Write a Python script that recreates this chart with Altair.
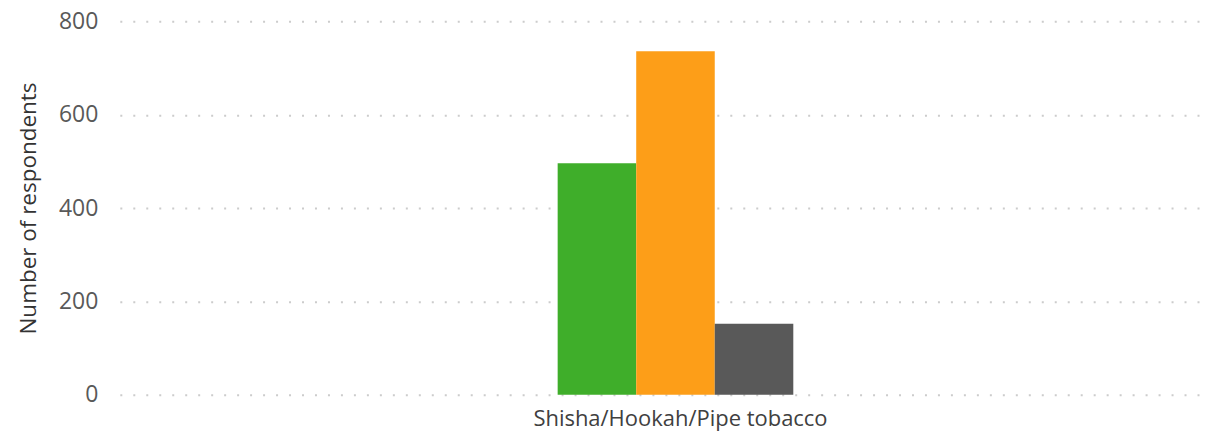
import altair as alt
import pandas as pd

categories = ["Shisha/Hookah/Pipe tobacco"]
series = ["Series 1", "Series 2", "Series 3"]
values = [496, 736, 152]
colors = ["#3FAE2A", "#FD9E18", "#595959"]
y_ticks = [0, 200, 400, 600, 800]

df = pd.DataFrame({
    "category": categories * len(series),
    "series": series,
    "value": values,
})

FONT = "Open Sans"

chart = alt.Chart(df).mark_bar().encode(
    x=alt.X(
        "category:N",
        title=None,
        scale=alt.Scale(paddingInner=0.4446, paddingOuter=1, align=0.516),
        axis=alt.Axis(labelAngle=0, ticks=False, domain=False, grid=False,
                      labelPadding=14, labelFont=FONT, labelFontSize=22,
                      labelColor="#404040", labelOffset=5, labelLimit=0),
    ),
    xOffset=alt.XOffset("series:N", sort=series,
                        scale=alt.Scale(paddingInner=0, paddingOuter=0)),
    y=alt.Y(
        "value:Q",
        title="Number of respondents",
        scale=alt.Scale(domain=[0, 800]),
        axis=alt.Axis(values=y_ticks, ticks=False, domain=False,
                      labelPadding=22, labelFont=FONT, labelFontSize=23,
                      labelColor="#595959",
                      grid=True, gridDash=[2, 11], gridColor="#cccccc", gridWidth=2,
                      titleFont=FONT, titleFontSize=22.5, titleFontWeight="normal",
                      titleColor="#333333", titleAngle=-90, titleX=-102, titleY=187,
                      titleBaseline="top", titleAlign="center"),
    ),
    color=alt.Color("series:N", scale=alt.Scale(domain=series, range=colors), legend=None),
).properties(
    width=1086,
    height=374,
    autosize=alt.AutoSizeParams(type="none"),
    padding={"left": 112, "top": 13, "right": 0, "bottom": 40},
).configure_view(stroke=None)

chart.save("out.html", embed_options={"renderer": "svg", "actions": False})
